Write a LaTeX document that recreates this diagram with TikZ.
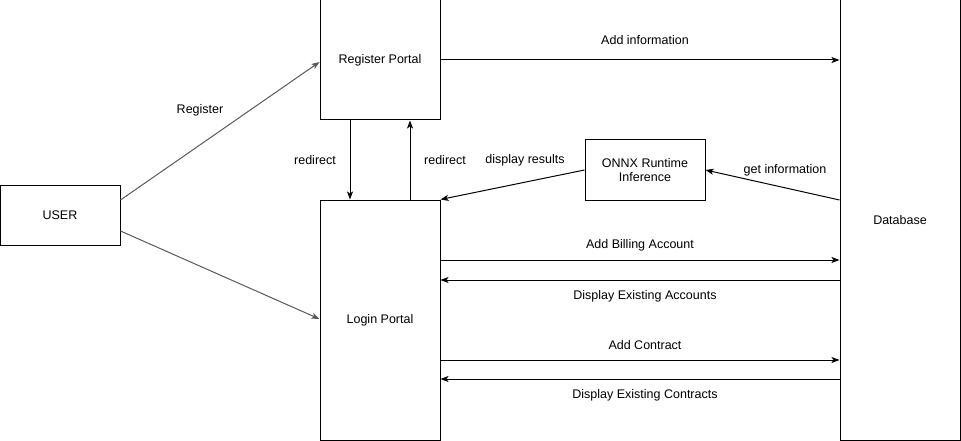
\documentclass[tikz,border=0pt]{standalone}
\usepackage{fontspec}
\setmainfont{Liberation Sans}
\usetikzlibrary{arrows.meta}
\begin{document}
\begin{tikzpicture}[x=1pt,y=-1pt,
  box/.style={draw=black,line width=1pt,minimum width=120pt,inner sep=0pt,align=center,font=\fontsize{12.5}{14.5}\selectfont},
  arr/.style={draw=black,line width=1pt,-{Stealth[length=8pt,width=6pt,inset=2pt]}},
  garr/.style={draw=black!65,line width=1pt,-{Stealth[length=8pt,width=6pt,inset=2pt]}},
  lbl/.style={font=\fontsize{12.5}{14.5}\selectfont,inner sep=0pt}]
\useasboundingbox (0,0) rectangle (961,441);
\node[box,minimum height=60pt] (user) at (60,215) {USER};
\node[box,minimum height=120pt] (reg) at (380,60) {Register Portal};
\node[box,minimum height=240pt] (login) at (380,320) {Login Portal};
\node[box,minimum height=60pt] (onnx) at (645,170) {ONNX Runtime\\Inference};
\node[box,minimum height=440pt] (db) at (900,220) {Database};
% user arrows
\draw[garr] (user.east |- 0,200) -- (reg.west |- 0,62);
\draw[garr] (user.east |- 0,231) -- (login.west |- 0,319);
\node[lbl] (lreg) at (200,110) {Register};
% redirects
\draw[arr] (reg.south -| 350,0) -- (login.north -| 350,0);
\draw[arr] (login.north -| 410,0) -- (reg.south -| 410,0);
\node[lbl] (lr1) at (315,160) {redirect};
\node[lbl] (lr2) at (445,160) {redirect};
% onnx
\draw[arr] (onnx.west) -- (login.north east);
\node[lbl] (ldr) at (525,160) {display results};
\draw[arr] (db.west |- 0,200) -- (onnx.east);
\node[lbl] (lgi) at (785,170) {get information};
% register to db
\draw[arr] (reg.east) -- (db.west |- reg.east);
\node[lbl] (lai) at (645,40) {Add information};
% billing
\draw[arr] (login.east |- 0,260) -- (db.west |- 0,260);
\node[lbl] (lab) at (640,245) {Add Billing Account};
\draw[arr] (db.west |- 0,280) -- (login.east |- 0,280);
\node[lbl] (lde) at (645,296) {Display Existing Accounts};
% contract
\draw[arr] (login.east |- 0,360) -- (db.west |- 0,360);
\node[lbl] (lac) at (645,345) {Add Contract};
\draw[arr] (db.west |- 0,379) -- (login.east |- 0,379);
\node[lbl] (ldc) at (645,395) {Display Existing Contracts};
\end{tikzpicture}
\end{document}
